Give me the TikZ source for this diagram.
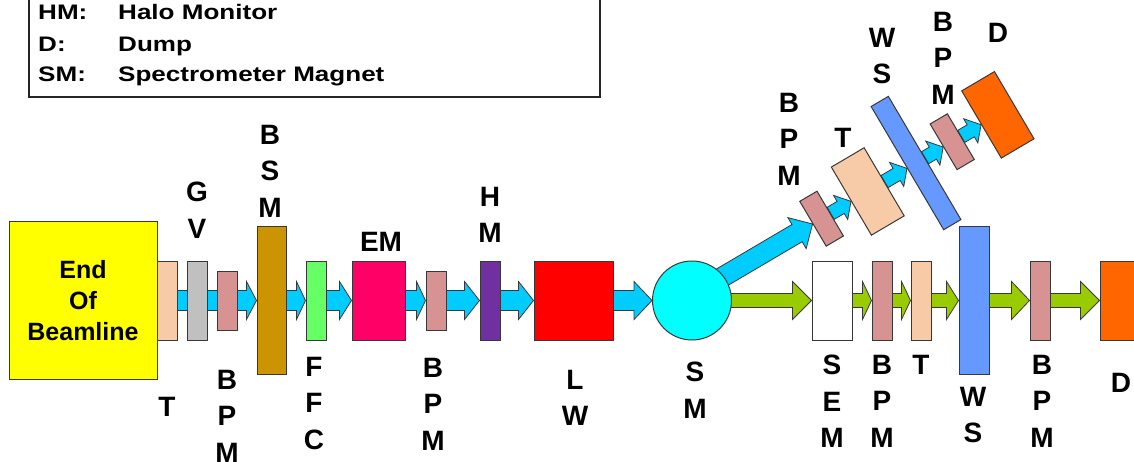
\documentclass[tikz,border=0pt]{standalone}
\usepackage{fontspec}
\setmainfont{Liberation Sans}
\newfontfamily\legfont[FakeStretch=1.24]{Liberation Sans}
\usetikzlibrary{calc}
\pgfdeclarelayer{background}
\pgfsetlayers{background,main}
\definecolor{cYellow}{HTML}{FFFF00}
\definecolor{cPeach}{HTML}{F8CBA8}
\definecolor{cGrey}{HTML}{C0C0C0}
\definecolor{cRose}{HTML}{D79391}
\definecolor{cGold}{HTML}{CC9400}
\definecolor{cLime}{HTML}{66FF66}
\definecolor{cMagenta}{HTML}{FF0066}
\definecolor{cPurple}{HTML}{7030A0}
\definecolor{cRed}{HTML}{FF0000}
\definecolor{cAqua}{HTML}{00FFFF}
\definecolor{cBeam}{HTML}{00CCFF}
\definecolor{cGreen}{HTML}{99CC00}
\definecolor{cBlue}{HTML}{6699FF}
\definecolor{cOrange}{HTML}{FF6600}
\definecolor{cEdge}{HTML}{383838}
\tikzset{
  elem/.style={draw=cEdge, line width=1pt, inner sep=0pt, rectangle},
  beamarrow/.style={draw=cEdge, line width=0.8pt, line join=miter},
  lab/.style={font=\fontsize{28}{36.5}\selectfont\bfseries, align=center, inner sep=0pt, anchor=north},
  leg/.style={font=\legfont\fontsize{21}{25}\selectfont\bfseries, inner sep=0pt, anchor=base west},
}
% #1 from, #2 to, #3 shaft half width, #4 head half width, #5 head length, #6 colour
\newcommand\blockarrow[6]{%
  \path ($(#2)!#5!(#1)$) coordinate (baC);
  \filldraw[beamarrow, fill=#6]
    ($(#1)!#3!90:(#2)$) -- ($(baC)!#3!90:(#2)$) -- ($(baC)!#4!90:(#2)$) -- (#2)
    -- ($(baC)!#4!-90:(#2)$) -- ($(baC)!#3!-90:(#2)$) -- ($(#1)!#3!-90:(#2)$) -- cycle;
}
\begin{document}
\begin{tikzpicture}[x=1pt, y=-1pt]
\useasboundingbox (0,0) rectangle (1134,462);

% legend
\draw[line width=1.5pt, draw=black!85] (29,-40) rectangle (600,97);
\node[leg] (lk1) at (38,20) {HM:};
\node[leg] (lv1) at (118,20) {Halo Monitor};
\node[leg] (lk2) at (38,51.7) {D:};
\node[leg] (lv2) at (118,51.7) {Dump};
\node[leg] (lk3) at (38,81.7) {SM:};
\node[leg] (lv3) at (118,81.7) {Spectrometer Magnet};

% main line elements
\node[elem, fill=cYellow, minimum width=148pt, minimum height=157pt, align=center,
      font=\fontsize{25}{31}\selectfont\bfseries] (eob) at (83,300.5) {End\\Of\\Beamline};
\node[elem, fill=cPeach, minimum width=20pt, minimum height=79pt] (t1) at (167,300.5) {};
\node[elem, fill=cGrey, minimum width=20pt, minimum height=79pt] (gv) at (197.5,300.5) {};
\node[elem, fill=cRose, minimum width=20pt, minimum height=59pt] (bpm1) at (227.5,300.5) {};
\node[elem, fill=cGold, minimum width=29pt, minimum height=147pt] (bsm) at (271.5,300.5) {};
\node[elem, fill=cLime, minimum width=20pt, minimum height=79pt] (ffc) at (316,300.5) {};
\node[elem, fill=cMagenta, minimum width=53pt, minimum height=79pt] (em) at (378.5,300.5) {};
\node[elem, fill=cRose, minimum width=20pt, minimum height=59pt] (bpm2) at (436,300.5) {};
\node[elem, fill=cPurple, minimum width=20pt, minimum height=79pt] (hm) at (490,300.5) {};
\node[elem, fill=cRed, minimum width=79pt, minimum height=79pt] (lw) at (573.5,300.5) {};
\node[elem, circle, fill=cAqua, minimum size=79pt] (sm) at (692,300.5) {};
\node[elem, fill=white, minimum width=40pt, minimum height=79pt] (sem) at (832,300.5) {};
\node[elem, fill=cRose, minimum width=20pt, minimum height=79pt] (bpm3) at (882,300.5) {};
\node[elem, fill=cPeach, minimum width=20pt, minimum height=79pt] (t3) at (921,300.5) {};
\node[elem, fill=cBlue, minimum width=30pt, minimum height=147pt] (ws) at (974,300.5) {};
\node[elem, fill=cRose, minimum width=20pt, minimum height=79pt] (bpm4) at (1040,300.5) {};
\node[elem, fill=cOrange, minimum width=79pt, minimum height=79pt] (d) at (1139.5,300.5) {};

% branch elements
\coordinate (o) at (692,295);
\node[elem, fill=cRose, minimum width=20pt, minimum height=52pt, rotate=30.5] (bpm5) at ($(o)+(30.5:150.4pt)$) {};
\node[elem, fill=cPeach, minimum width=38pt, minimum height=79pt, rotate=30.5] (t5) at ($(o)+(30.5:204pt)$) {};
\node[elem, fill=cBlue, minimum width=20pt, minimum height=143pt, rotate=30.5] (ws5) at ($(o)+(30.5:260pt)$) {};
\node[elem, fill=cRose, minimum width=20pt, minimum height=53pt, rotate=30.5] (bpm6) at ($(o)+(30.5:302pt)$) {};
\node[elem, fill=cOrange, minimum width=38pt, minimum height=78pt, rotate=30.5] (d5) at ($(o)+(30.5:355pt)$) {};

% beam arrows
\begin{pgfonlayer}{background}
\blockarrow{eob.east}{bsm.west}{10pt}{19pt}{10pt}{cBeam}
\blockarrow{bsm.east}{ffc.west}{10pt}{19pt}{9pt}{cBeam}
\blockarrow{ffc.east}{em.west}{10pt}{19pt}{12pt}{cBeam}
\blockarrow{em.east}{bpm2.west}{10pt}{19pt}{9pt}{cBeam}
\blockarrow{bpm2.east}{hm.west}{10pt}{19pt}{15pt}{cBeam}
\blockarrow{hm.east}{lw.west}{10pt}{19pt}{15pt}{cBeam}
\blockarrow{lw.east}{sm.west}{10pt}{19pt}{18pt}{cBeam}
\blockarrow{sm.center}{sem.west}{7pt}{19pt}{19pt}{cGreen}
\blockarrow{sem.east}{bpm3.west}{7pt}{19pt}{9pt}{cGreen}
\blockarrow{bpm3.east}{t3.west}{7pt}{19pt}{9pt}{cGreen}
\blockarrow{t3.east}{ws.west}{7pt}{19pt}{12pt}{cGreen}
\blockarrow{ws.east}{bpm4.west}{7pt}{19pt}{18pt}{cGreen}
\blockarrow{bpm4.east}{d.west}{7pt}{19pt}{19pt}{cGreen}
\blockarrow{o}{bpm5.west}{10pt}{18pt}{18pt}{cBeam}
\blockarrow{bpm5.east}{t5.west}{7pt}{14pt}{12pt}{cBeam}
\blockarrow{t5.east}{ws5.west}{7pt}{14pt}{12pt}{cBeam}
\blockarrow{ws5.east}{bpm6.west}{7pt}{14pt}{12pt}{cBeam}
\blockarrow{bpm6.east}{d5.west}{7pt}{14pt}{12pt}{cBeam}
\end{pgfonlayer}

% labels
\node[lab] (lgv) at (197,182) {G\\V};
\node[lab] (lbsm) at (270,125) {B\\S\\M};
\node[lab] (lem) at (381,232) {EM};
\node[lab] (lhm) at (490,187) {H\\M};
\node[lab] (lt1) at (167,397) {T};
\node[lab] (lbpm1) at (227,370) {B\\P\\M};
\node[lab] (lffc) at (314,357) {F\\F\\C};
\node[lab] (lbpm2) at (433,358) {B\\P\\M};
\node[lab] (llw) at (575,370) {L\\W};
\node[lab] (lsm) at (695,362) {S\\M};
\node[lab] (lsem) at (832,355) {S\\E\\M};
\node[lab] (lbpm3) at (882,355) {B\\P\\M};
\node[lab] (lt3) at (921,355) {T};
\node[lab] (lws) at (973,387) {W\\S};
\node[lab] (lbpm4) at (1042,355) {B\\P\\M};
\node[lab] (ld) at (1121,373) {D};
\node[lab] (lbpm5) at (789,93) {B\\P\\M};
\node[lab] (lt5) at (843,128) {T};
\node[lab] (lws5) at (882,28) {W\\S};
\node[lab] (lbpm6) at (943,12) {B\\P\\M};
\node[lab] (ld5) at (998,23) {D};
\end{tikzpicture}
\end{document}
